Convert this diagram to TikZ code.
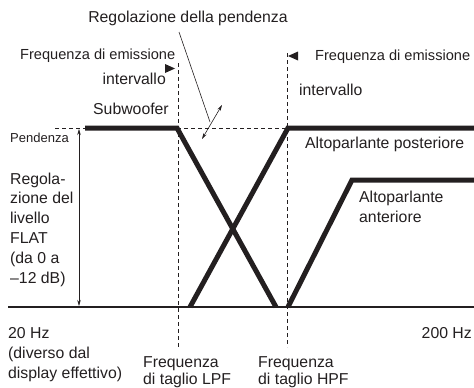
\documentclass[tikz,border=0pt]{standalone}
\usepackage{fontspec}
\setmainfont{Liberation Sans}
\definecolor{inkblack}{HTML}{231F20}
\usetikzlibrary{arrows.meta,positioning}

\begin{document}
\begin{tikzpicture}[x=1pt,y=-1pt,inkblack,
    lbl/.style={font=\fontsize{15.8}{19.8}\selectfont,inner sep=0pt,align=left},
    narrowlbl/.style={lbl,font=\fontsize{14.6}{19.8}\selectfont},
    curve/.style={line width=5pt,line join=miter},
    guide/.style={line width=0.8pt,dash pattern=on 4pt off 3pt},
    marker/.style={fill=inkblack,draw=none}]
    \useasboundingbox (0,0) rectangle (474,388);
    % axis and level curves
    \draw[line width=2.5pt] (8,307) -- (474,307);
    \draw[guide] (55,128) -- (85,128);
    \draw[guide] (177,128) -- (288,128);
    \draw[guide] (178,63) -- (178,347);
    \draw[guide] (287,53) -- (287,347);
    \draw[curve] (85,128) -- (177,128) -- (276,307);
    \draw[curve] (190,307) -- (288,128) -- (474,128);
    \draw[curve] (288,307) -- (352,180) -- (474,180);
    % range markers
    \fill[marker] (165,64) -- (175,68.5) -- (165,73) -- cycle;
    \fill[marker] (298,51.5) -- (288,56) -- (298,60.5) -- cycle;
    % level arrow
    \coordinate (lvltop) at (79,129);
    \coordinate (lvlbot) at (79,306);
    \draw[line width=0.6pt,{Stealth[length=6pt,width=3.5pt]}-{Stealth[length=6pt,width=3.5pt]}] (lvltop) -- (lvlbot);
    % slope
    \node[lbl,anchor=base] (slope) at (188,22) {Regolazione della pendenza};
    \coordinate (slopefoot) at (179,32);
    \coordinate (slopetip) at (210,122);
    \coordinate (slopelo) at (202,139);
    \coordinate (slopehi) at (222,105);
    \draw[line width=0.6pt] (slopefoot) -- (slopetip);
    \draw[line width=0.6pt,{Stealth[length=6pt,width=3.5pt]}-{Stealth[length=6pt,width=3.5pt]}] (slopelo) -- (slopehi);
    % labels
    \node[narrowlbl,anchor=base west] (lpfrange) at (20,59) {Frequenza di emissione};
    \node[lbl,anchor=base east] (lpfint) at (166,84) {intervallo};
    \node[lbl,anchor=base west] (sub) at (93,114) {Subwoofer};
    \node[narrowlbl,anchor=base west] (hpfrange) at (315,60) {Frequenza di emissione};
    \node[lbl,anchor=base west] (hpfint) at (299,95) {intervallo};
    \node[lbl,anchor=base west,font=\fontsize{13}{15}\selectfont] (pend) at (10,142) {Pendenza};
    \node[lbl,anchor=base west] (level) at (10,283) {Regola-\\zione del\\livello\\FLAT\\(da 0 a\\–12 dB)};
    \node[lbl,anchor=base west] (rear) at (305,148) {Altoparlante posteriore};
    \node[lbl,anchor=base west] (front) at (359,222) {Altoparlante\\anteriore};
    \node[lbl,anchor=base west] (lowhz) at (8,378) {20 Hz\\(diverso dal\\display effettivo)};
    \node[lbl,anchor=base east] (highhz) at (472,338) {200 Hz};
    \node[lbl,anchor=base west,font=\fontsize{15.8}{16.5}\selectfont] (lpf) at (143,384) {Frequenza\\di taglio LPF};
    \node[lbl,anchor=base west,font=\fontsize{15.8}{16.5}\selectfont] (hpf) at (258,384) {Frequenza\\di taglio HPF};
\end{tikzpicture}
\end{document}
